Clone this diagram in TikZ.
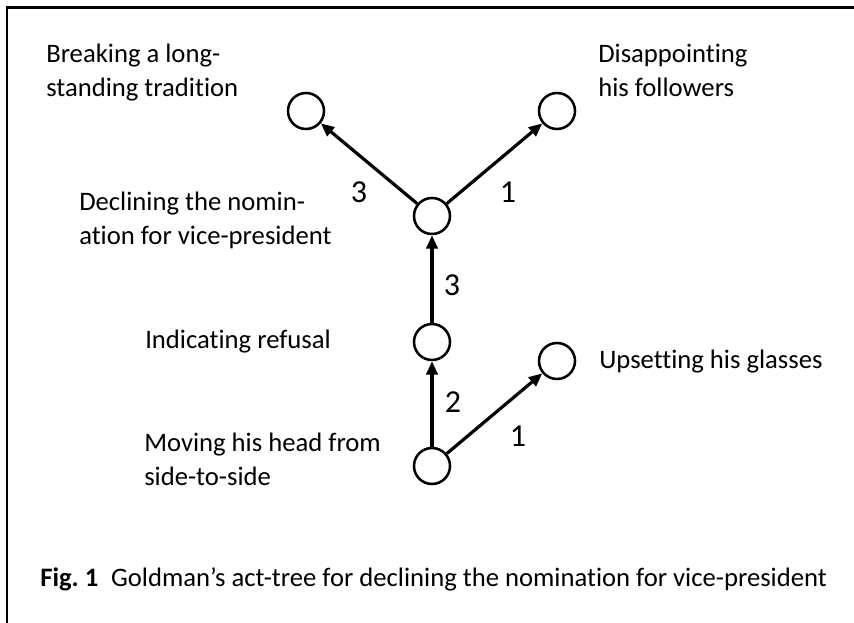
\documentclass[tikz,border=0pt]{standalone}
\usepackage{fontspec}
\setmainfont{Carlito}[Ligatures={NoCommon,NoContextual}]
\usetikzlibrary{arrows.meta}
\frenchspacing
\newcommand{\twolines}[2]{\vtop{\baselineskip=25pt\hbox{#1}\hbox{#2}}}
\begin{document}
\begin{tikzpicture}[x=0.75pt,y=-0.75pt,
  act/.style={circle,draw,line width=1.9pt,minimum size=27pt,inner sep=0pt},
  arr/.style={line width=2.4pt,-{Triangle[length=10pt,width=8.5pt]}},
  lbl/.style={anchor=base west,inner sep=0pt,font=\fontsize{20}{25}\selectfont},
  num/.style={inner sep=0pt,font=\fontsize{24}{28}\selectfont},
  frame/.style={line width=2.2pt}]
\useasboundingbox (0,0) rectangle (854,623);
% frame (left and top edges)
\coordinate (fb) at (7,623);
\coordinate (fc) at (7,7.5);
\coordinate (fr) at (854,7.5);
\draw[frame] (fb) -- (fc) -- (fr);
% act nodes
\node[act] (tl) at (306,111) {};
\node[act] (tr) at (557,111) {};
\node[act] (dec) at (432,216) {};
\node[act] (ind) at (432,342) {};
\node[act] (ups) at (557,361) {};
\node[act] (mov) at (432,466) {};
% connectors
\draw[arr] (dec) -- (tl);
\draw[arr] (dec) -- (tr);
\draw[arr] (ind) -- (dec);
\draw[arr] (mov) -- (ind);
\draw[arr] (mov) -- (ups);
% edge labels
\node[num] (n1) at (359,192) {3};
\node[num] (n2) at (508,192) {1};
\node[num] (n3) at (452,285) {3};
\node[num] (n4) at (453,402) {2};
\node[num] (n5) at (518,436) {1};
% texts
\node[lbl] (t1) at (46,63) {\twolines{Breaking a long-}{standing tradition}};
\node[lbl] (t2) at (598,63) {\twolines{Disappointing}{his followers}};
\node[lbl] (t3) at (79,211) {\twolines{Declining the nomin-}{ation for vice-president}};
\node[lbl] (t4) at (145,349) {Indicating refusal};
\node[lbl] (t5) at (599,369) {Upsetting his glasses};
\node[lbl] (t6) at (144,452) {\twolines{Moving his head from}{side-to-side}};
\node[lbl] (cap) at (40,587) {\textbf{Fig. 1}\hspace{0.25em} Goldman’s act-tree for declining the nomination for vice-president};
\end{tikzpicture}
\end{document}
